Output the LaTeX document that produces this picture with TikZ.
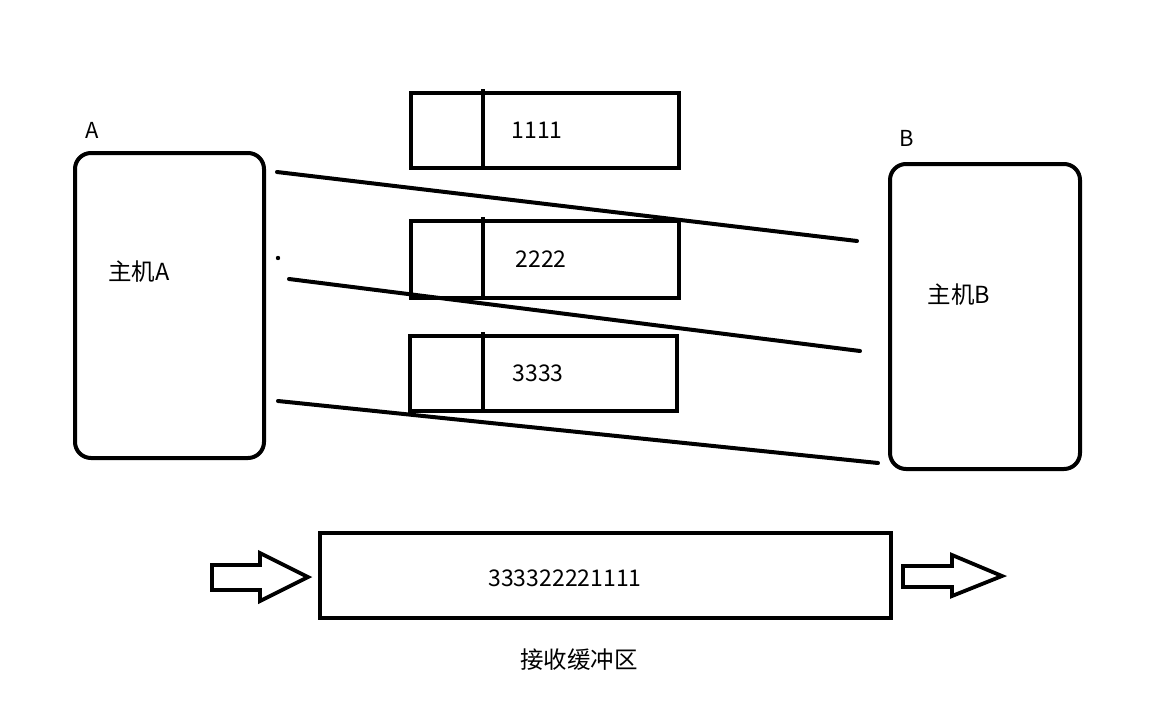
\documentclass[tikz,border=0pt]{standalone}
\usepackage{fontspec}
\newfontfamily\cjk{Noto Sans CJK SC}
\begin{document}
\begin{tikzpicture}[x=1pt,y=-1pt,
  host/.style={draw,line width=4pt,rounded corners=16pt,minimum width=#1,minimum height=305pt,inner sep=0pt},
  pkt/.style={draw,line width=4pt,minimum width=268pt,inner sep=0pt},
  buf/.style={draw,line width=4pt,minimum width=571pt,minimum height=85pt,inner sep=0pt},
  txt/.style={inner sep=0pt,font=\cjk\fontsize{23}{26}\selectfont},
  ctxt/.style={inner sep=0pt,font=\cjk\fontsize{23.5}{26}\selectfont},
  lbl/.style={inner sep=0pt,font=\cjk\fontsize{22}{24}\selectfont},
  wire/.style={line width=4pt,line cap=round},
  blk/.style={draw,line width=3.8pt,line join=miter}]
\useasboundingbox (0,0) rectangle (1154,701);
% hosts
\node[host=189pt] (hA) at (169.5,305.5) {};
\node[host=190pt] (hB) at (985,316.5) {};
\node[lbl] (la) at (92,130) {A};
\node[lbl] (lb) at (907,138) {B};
\node[ctxt] (tA) at (139,272) {主机A};
\node[ctxt] (tB) at (959,295) {主机B};
% packets
\node[pkt,minimum height=75pt] (p1) at (545,130.5) {};
\node[pkt,minimum height=77pt] (p2) at (545,259.5) {};
\node[pkt,minimum height=75pt,minimum width=267pt] (p3) at (543.5,373.5) {};
\draw[line width=3.8pt] ([yshift=2pt]p1.north -| 483,0) -- (p1.south -| 483,0);
\draw[line width=3.8pt] ([yshift=2pt]p2.north -| 483,0) -- (p2.south -| 483,0);
\draw[line width=3.8pt] ([yshift=2pt]p3.north -| 483,0) -- (p3.south -| 483,0);
\node[txt] (t1) at (537,130) {1111};
\node[txt] (t2) at (541,259) {2222};
\node[txt] (t3) at (538,373) {3333};
% wires
\coordinate (a1) at (277,172); \coordinate (b1) at (857,241);
\coordinate (a2) at (289,279); \coordinate (b2) at (860,351);
\coordinate (a3) at (278,401); \coordinate (b3) at (878,463);
\draw[wire] (a1) -- (b1);
\draw[wire] (a2) -- (b2);
\draw[wire] (a3) -- (b3);
\fill (278,258) circle (2.2pt);
% buffer
\node[buf] (bf) at (605.5,575.5) {};
\node[txt] (tb) at (565,578) {333322221111};
\node[ctxt] (tl) at (579,660) {接收缓冲区};
% block arrows
\draw[blk] (212,565) -- (260,565) -- (260,553) -- (308,577) -- (260,601) -- (260,590) -- (212,590) -- cycle;
\draw[blk] (903,566) -- (952,566) -- (952,555) -- (1002,576) -- (952,596) -- (952,587) -- (903,587) -- cycle;
\end{tikzpicture}
\end{document}
